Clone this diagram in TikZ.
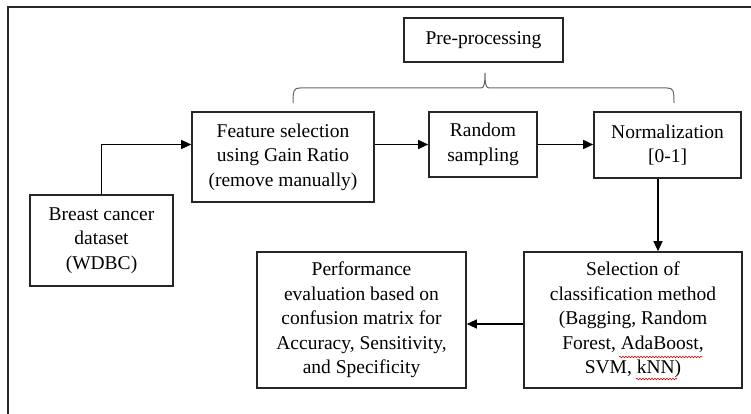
\documentclass[tikz,border=0pt]{standalone}
\usepackage{fontspec}
\setmainfont{Liberation Serif}
\newfontfamily\tnrfont{Liberation Serif}
\usetikzlibrary{arrows.meta,decorations.pathmorphing}
\begin{document}
\begin{tikzpicture}[x=1pt,y=-1pt,
  box/.style={draw=black!85,line width=1.6pt,rectangle,inner sep=0pt,align=center,
    font=\tnrfont\fontsize{19.5}{24.5}\selectfont},
  arr/.style={draw=black,line width=1.2pt,-{Triangle[length=10pt,width=9pt]}},
  brace/.style={draw=black!60,line width=1pt},
  frame/.style={draw=black!85,line width=1.8pt},
  spell/.style={draw=red!85!black,line width=0.6pt,decorate,
    decoration={snake,amplitude=0.8pt,segment length=3pt}}]
\useasboundingbox (0,0) rectangle (751,414);
% outer frame (top and left edges visible)
\coordinate (fa) at (8,414);
\coordinate (fb) at (8,7);
\coordinate (fc) at (751,7);
\draw[frame] (fa) -- (fb) -- (fc);
% nodes
\node[box,minimum width=159pt,minimum height=44pt] (pre) at (483.5,40) {Pre-processing};
\node[box,minimum width=182pt,minimum height=90pt] (feat) at (283,157) {Feature selection\\using Gain Ratio\\(remove manually)};
\node[box,minimum width=108pt,minimum height=65pt] (rand) at (483,144.5) {Random\\sampling};
\node[box,minimum width=147pt,minimum height=66pt] (norm) at (667.5,145) {Normalization\\{[0-1]}};
\node[box,minimum width=143pt,minimum height=91pt] (breast) at (101.5,240.5) {Breast cancer\\dataset\\(WDBC)};
\node[box,minimum width=209pt,minimum height=136pt] (perf) at (361.5,320) {Performance\\evaluation based on\\confusion matrix for\\Accuracy, Sensitivity,\\and Specificity};
\node[box,minimum width=218pt,minimum height=136pt] (sel) at (633,320) {Selection of\\classification method\\(Bagging, Random\\Forest, AdaBoost,\\SVM, kNN)};
% brace
\draw[brace] (293,103) .. controls (293,90) and (294,88) .. (300,88) -- (481,88)
  .. controls (484,88) and (485,84) .. (485,73)
  .. controls (485,84) and (486,88) .. (489,88) -- (667,88)
  .. controls (673,88) and (674,90) .. (674,103);
% connectors
\draw[arr] (breast.north) |- (feat.west |- rand.west);
\draw[arr] (feat.east |- rand.west) -- (rand.west);
\draw[arr] (rand.east) -- (rand.east -| norm.west);
\draw[arr] ([xshift=-9.5pt]norm.south) -- ([xshift=-9.5pt]norm.south |- sel.north);
\draw[arr] ([yshift=-4pt]sel.west) -- ([yshift=-4pt]sel.west -| perf.east);
% spell-check marks
\draw[spell] (619,357) -- (702,357);
\draw[spell] (636,379) -- (677,379);
\end{tikzpicture}
\end{document}
